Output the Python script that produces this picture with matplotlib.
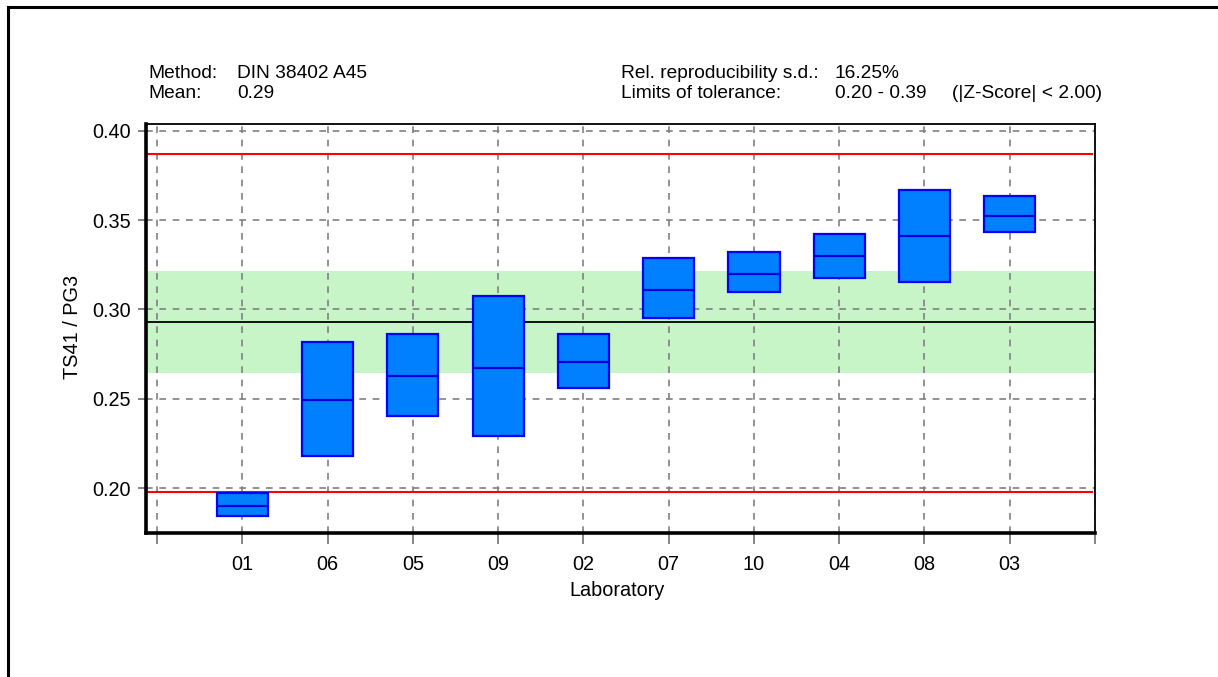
import numpy as np
import matplotlib
matplotlib.use('Agg')
import matplotlib.pyplot as plt
from matplotlib.lines import Line2D

# lab results, sorted by median
labs = ['01', '06', '05', '09', '02', '07', '10', '04', '08', '03']
box_low = [0.1841, 0.2181, 0.2403, 0.2293, 0.2560, 0.2950, 0.3096, 0.3174, 0.3152, 0.3434]
box_high = [0.1974, 0.2820, 0.2863, 0.3077, 0.2863, 0.3289, 0.3324, 0.3425, 0.3669, 0.3638]
box_median = [0.1897, 0.2493, 0.2627, 0.2672, 0.2708, 0.3111, 0.3199, 0.3300, 0.3412, 0.3525]

mean_value = 0.2930
band_low, band_high = 0.2644, 0.3217   # green band around mean
tol_low, tol_high = 0.1978, 0.3873     # red tolerance limits

plt.rcParams['font.family'] = ['Liberation Sans', 'DejaVu Sans']
W, H = 1218, 677
fig = plt.figure(figsize=(W / 100, H / 100), dpi=100)
fig.patch.set_facecolor('white')

# pixel helpers for figure-level text
def px(x, y):
    return x / W, 1 - y / H

ax = fig.add_axes([146 / W, 1 - 533 / H, (1095 - 146) / W, (533 - 124) / H])

x = np.arange(1, len(labs) + 1)
ax.axhspan(band_low, band_high, color='#c8f5c8', zorder=0.3, lw=0)
ax.axhline(mean_value, color='black', lw=1.3, zorder=1.5)
ax.axhline(tol_high, color='#ff0000', lw=1.5, zorder=1.5, xmax=0.997)
ax.axhline(tol_low, color='#ff0000', lw=1.5, zorder=1.5, xmax=0.997)

heights = np.array(box_high) - np.array(box_low)
ax.bar(x, heights, bottom=box_low, width=0.6, color='#0080ff',
       edgecolor='#0000ff', linewidth=1.6, zorder=3)
ax.hlines(box_median, x - 0.3, x + 0.3, color='#0000dd', lw=1.6, zorder=4)

ax.set_xlim(-0.13, 11)
ax.set_ylim(0.1748, 0.4039)
ax.set_xticks(np.arange(0, 12))
ax.set_xticklabels([''] + labs + [''])
ax.set_yticks([0.20, 0.25, 0.30, 0.35, 0.40])
ax.set_yticklabels(['0.20', '0.25', '0.30', '0.35', '0.40'])

ax.set_axisbelow(True)
ax.grid(True, color='#808080', linestyle=(0, (4, 4)), linewidth=1.2)

fs = 14.3
ax.tick_params(axis='x', length=8, width=1.2, color='#707070', pad=8, labelsize=fs)
ax.tick_params(axis='y', length=6, width=1.2, color='#707070', pad=5, labelsize=fs)

for side in ['left', 'bottom']:
    ax.spines[side].set_linewidth(2.6)
for side in ['top', 'right']:
    ax.spines[side].set_linewidth(1.3)

# axis titles
fig.text(*px(72, 327), 'TS41 / PG3', rotation=90, ha='center', va='center', fontsize=fs)
fig.text(*px(617, 591), 'Laboratory', ha='center', va='center', fontsize=fs)

# header info
hs = 13.8
fig.text(*px(148, 78), 'Method:', fontsize=hs, va='baseline')
fig.text(*px(237, 78), 'DIN 38402 A45', fontsize=hs, va='baseline')
fig.text(*px(148, 98), 'Mean:', fontsize=hs, va='baseline')
fig.text(*px(237, 98), '0.29', fontsize=hs, va='baseline')
fig.text(*px(621, 78), 'Rel. reproducibility s.d.:', fontsize=hs, va='baseline')
fig.text(*px(835, 78), '16.25%', fontsize=hs, va='baseline')
fig.text(*px(621, 98), 'Limits of tolerance:', fontsize=hs, va='baseline')
fig.text(*px(835, 98), '0.20 - 0.39', fontsize=hs, va='baseline')
fig.text(*px(952, 98), '(|Z-Score| < 2.00)', fontsize=hs, va='baseline')

# outer frame (top and left only visible)
fig.add_artist(Line2D([8 / W, 8 / W], [0, 1 - 7 / H], color='black', lw=2.2))
fig.add_artist(Line2D([8 / W, 1], [1 - 7 / H, 1 - 7 / H], color='black', lw=2.2))

fig.savefig('out.png', dpi=100)
